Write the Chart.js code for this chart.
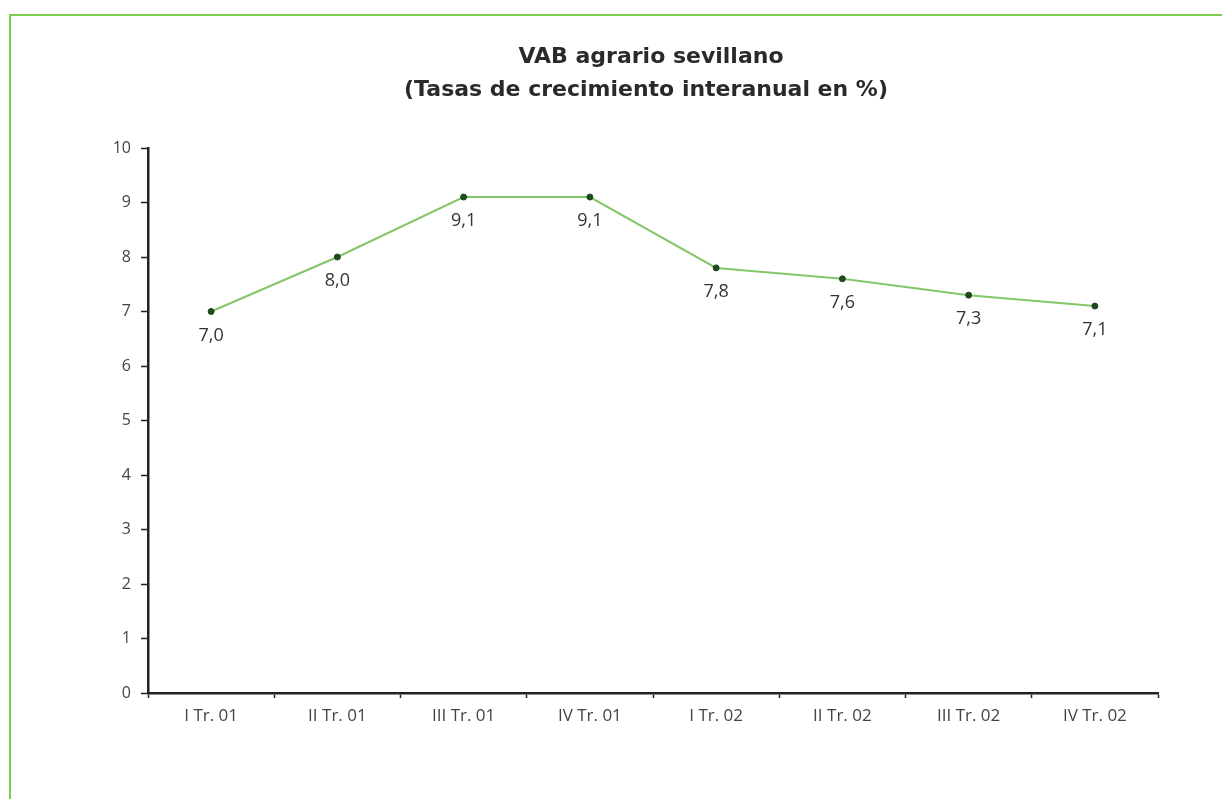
<!DOCTYPE html>
<html>
<head>
<meta charset="utf-8">
<script src="https://cdn.jsdelivr.net/npm/chart.js@4/dist/chart.umd.min.js"></script>
<style>
  html, body { margin: 0; padding: 0; background: #fff; }
  #wrap { position: relative; width: 1222px; height: 799px; overflow: hidden; }
  #frame { position: absolute; left: 9px; top: 14px; width: 1300px; height: 900px;
           border-left: 2px solid #7ccc4c; border-top: 2px solid #7ccc4c; box-sizing: border-box; }
  canvas { position: absolute; left: 0; top: 0; }
</style>
</head>
<body>
<div id="wrap">
  <div id="frame"></div>
  <canvas id="c" width="1222" height="799"></canvas>
</div>
<script>
const titleLines = ['VAB agrario sevillano', '(Tasas de crecimiento interanual en %)'];
const quarters = ['I Tr. 01', 'II Tr. 01', 'III Tr. 01', 'IV Tr. 01', 'I Tr. 02', 'II Tr. 02', 'III Tr. 02', 'IV Tr. 02'];
const growth = [7.0, 8.0, 9.1, 9.1, 7.8, 7.6, 7.3, 7.1];

const FONT = '"Open Sans", Lato, sans-serif';
const TITLE_FONT = '"DejaVu Sans", "Open Sans", sans-serif';

// Title drawn centred over the plot area
const titlePlugin = {
  id: 'twoLineTitle',
  afterDraw(chart) {
    const { ctx, chartArea } = chart;
    const cx = (chartArea.left + chartArea.right) / 2 - 7;
    ctx.save();
    ctx.fillStyle = '#2a2a2a';
    ctx.font = 'bold 22px ' + TITLE_FONT;
    ctx.textAlign = 'center';
    ctx.textBaseline = 'middle';
    ctx.fillText(titleLines[0], cx + 5, 57);
    ctx.fillText(titleLines[1], cx, 90);
    ctx.restore();
  }
};

// Value labels under each point, with comma decimals
const valueLabels = {
  id: 'valueLabels',
  afterDatasetsDraw(chart) {
    const { ctx } = chart;
    const meta = chart.getDatasetMeta(0);
    ctx.save();
    ctx.fillStyle = '#333';
    ctx.font = '18px ' + FONT;
    ctx.textAlign = 'center';
    ctx.textBaseline = 'middle';
    meta.data.forEach((pt, i) => {
      const txt = growth[i].toFixed(1).replace('.', ',');
      ctx.fillText(txt, pt.x, pt.y + 24);
    });
    ctx.restore();
  }
};

new Chart(document.getElementById('c'), {
  type: 'line',
  data: {
    labels: quarters,
    datasets: [{
      data: growth,
      borderColor: '#84c66a',
      borderWidth: 2,
      pointBackgroundColor: '#1f4a1f',
      pointBorderColor: '#1f4a1f',
      pointRadius: 3,
      pointBorderWidth: 1,
      tension: 0
    }]
  },
  options: {
    responsive: false,
    animation: false,
    layout: { padding: { left: 88, right: 64, top: 148, bottom: 66 } },
    plugins: { legend: { display: false }, tooltip: { enabled: false }, title: { display: false } },
    scales: {
      x: {
        offset: true,
        grid: { display: true, drawOnChartArea: false, offset: true, tickLength: 5, color: '#222', tickWidth: 1.5 },
        border: { display: true, color: '#222', width: 2.5 },
        ticks: { color: '#444', font: { family: FONT, size: 17 }, padding: 8, maxRotation: 0 },
        afterFit(s) { s.height = 40; }
      },
      y: {
        min: 0, max: 10,
        grid: { display: true, drawOnChartArea: false, tickLength: 7, color: '#222', tickWidth: 1.5 },
        border: { display: true, color: '#222', width: 2.5 },
        ticks: { stepSize: 1, color: '#444', font: { family: FONT, size: 16 }, padding: 10 },
        afterFit(s) { s.width = 60; }
      }
    }
  },
  plugins: [titlePlugin, valueLabels]
});
</script>
</body>
</html>
